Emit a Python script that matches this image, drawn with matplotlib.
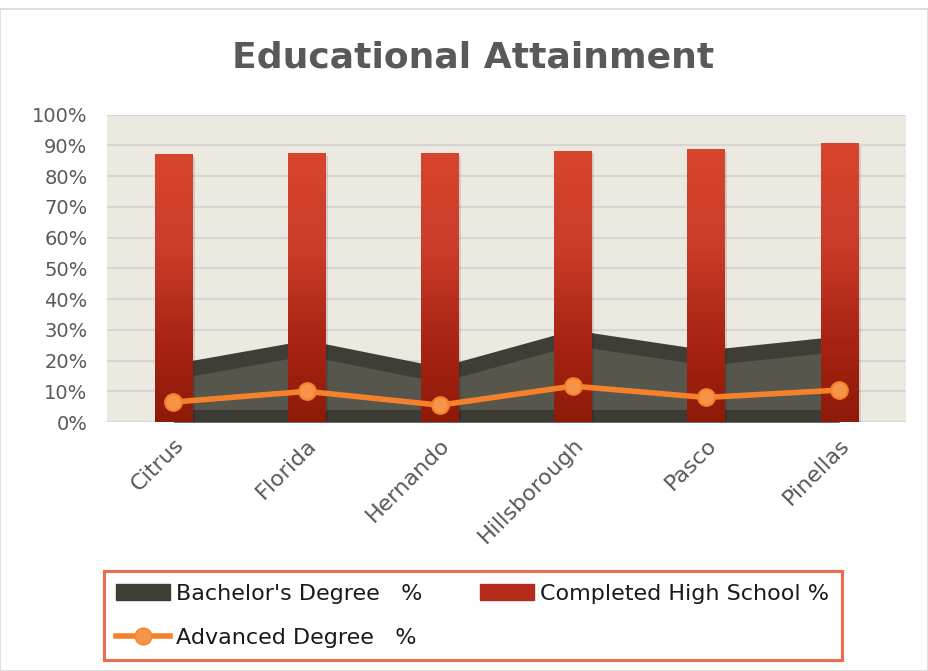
import numpy as np
import matplotlib
matplotlib.use("Agg")
import matplotlib.pyplot as plt
from matplotlib.colors import LinearSegmentedColormap
from matplotlib.lines import Line2D
from matplotlib.patches import Patch, Rectangle
from matplotlib.ticker import FuncFormatter

# Chart data (percent)
counties = ["Citrus", "Florida", "Hernando", "Hillsborough", "Pasco", "Pinellas"]
high_school = [87.0, 87.3, 87.3, 88.0, 88.6, 90.5]
bachelors = [19.0, 26.7, 18.0, 30.0, 23.5, 28.0]
advanced = [6.5, 10.0, 5.5, 11.7, 8.0, 10.4]

TEXT = "#595959"
BG = "#ECEAE0"
GRID = "#D6D6D6"
ORANGE = "#F5812A"
BORDER = "#E84A22"

fig = plt.figure(figsize=(9.29, 6.71), dpi=100)
fig.patch.set_facecolor("white")
fig.patches.append(Rectangle((0.0, 0.0), 0.999, 0.987, transform=fig.transFigure,
                             fill=False, edgecolor="#D9D9D9", lw=1.2))

ax = fig.add_axes([0.115, 0.371, 0.86, 0.458])
ax.set_facecolor(BG)
for s in ax.spines.values():
    s.set_visible(False)

x = np.arange(len(counties)) + 0.5

# Area (Bachelor's degree), with a shaded front face
bach = np.array(bachelors)
ax.fill_between(x, 0, bach, color="#3F3E36", zorder=1, lw=0)
ax.fill_between(x, 0, np.clip(bach - 5, 0, None), color="#56564D", zorder=1.1, lw=0)
ax.fill_between(x, 0, np.full_like(bach, 4.0), color="#3B3B33", zorder=1.2, lw=0)

# Bars with vertical gradient
cmap = LinearSegmentedColormap.from_list(
    "red", [(0, "#8E1A08"), (0.3, "#A82414"), (0.65, "#CC3C29"), (1, "#D8452F")])
grad = np.linspace(0, 1, 256).reshape(-1, 1)
bw = 0.28
for xi, h in zip(x, high_school):
    ax.add_patch(Rectangle((xi - bw / 2 + 0.02, 0), bw, h - 0.6, color="#000000",
                           alpha=0.12, zorder=1.9, lw=0))
    ax.imshow(grad, extent=[xi - bw / 2, xi + bw / 2, 0, h], origin="lower",
              aspect="auto", cmap=cmap, zorder=2, interpolation="bicubic")

# Advanced degree line
ax.plot(x, advanced, color=ORANGE, lw=4, zorder=3, solid_capstyle="round",
        marker="o", ms=12, mfc="#F7944A", mec=ORANGE, mew=1.5)

ax.set_xlim(0, len(counties))
ax.set_ylim(0, 100)
ax.set_yticks(np.arange(0, 101, 10))
ax.yaxis.set_major_formatter(FuncFormatter(lambda v, p: f"{int(v)}%"))
ax.grid(axis="y", color=GRID, lw=1.5, zorder=0)
ax.set_axisbelow(True)
ax.set_xticks(x)
ax.set_xticklabels(counties, rotation=45, ha="right", rotation_mode="anchor")
ax.tick_params(axis="both", length=0, labelcolor=TEXT)
ax.tick_params(axis="x", pad=9, labelsize=16)
ax.tick_params(axis="y", pad=14, labelsize=14)

fig.text(0.509, 0.915, "Educational Attainment", ha="center", va="center",
         fontsize=26, fontweight="bold", color=TEXT)

handles = [
    Patch(facecolor="#3F3E36", edgecolor="#3F3E36"),
    Line2D([0], [0], color=ORANGE, lw=4, marker="o", ms=12, mfc="#F7944A", mec=ORANGE),
    Patch(facecolor="#B22B1B", edgecolor="#B22B1B"),
]
labels = ["Bachelor's Degree   %", "Advanced Degree   %", "Completed High School %"]
leg = fig.legend(handles, labels, ncol=2, loc="lower left",
                 bbox_to_anchor=(0.112, 0.016), fontsize=16, frameon=True,
                 fancybox=False, handlelength=2.4, handletextpad=0.3,
                 borderpad=0.55, labelspacing=1.1, columnspacing=2.6,
                 borderaxespad=0)
leg.get_frame().set_edgecolor(BORDER)
leg.get_frame().set_linewidth(2.2)
for t in leg.get_texts():
    t.set_color("#1a1a1a")

fig.savefig("out.png", dpi=100)
